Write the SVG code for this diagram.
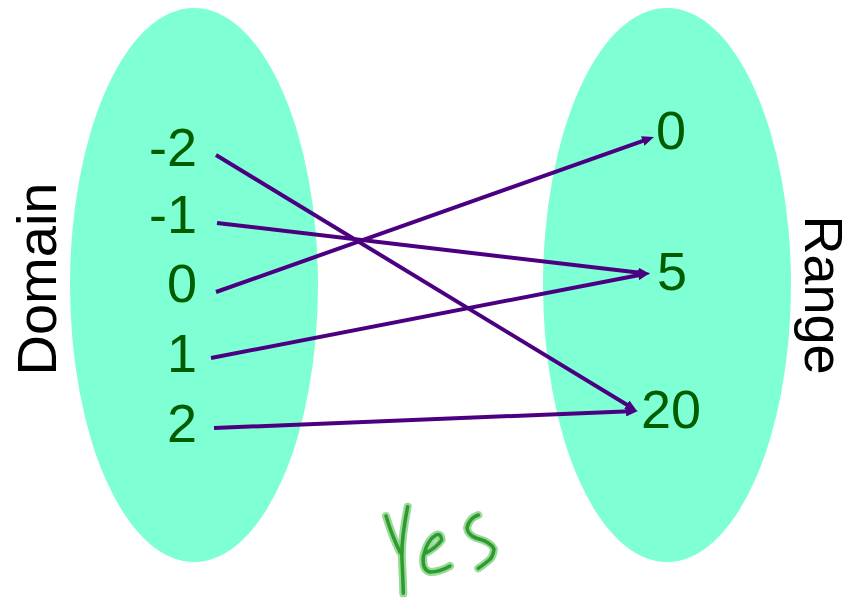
<svg xmlns="http://www.w3.org/2000/svg" width="855" height="599" viewBox="0 0 855 599">
<style>
.set{fill:#7FFFD4}
.num{font-family:"Liberation Sans",Arial,sans-serif;font-size:54px;fill:#005C00}
.lbl{font-family:"Liberation Sans",Arial,sans-serif;font-size:56px;fill:#000}
.arr{stroke:#4B0082;stroke-width:4;fill:none;marker-end:url(#ah)}
.halo{stroke:#7FCF7F;stroke-width:8;fill:none;stroke-linecap:round;stroke-linejoin:round;opacity:0.8}
.ink{stroke:#2E9B2E;stroke-width:3.5;fill:none;stroke-linecap:round;stroke-linejoin:round}
</style>
<defs>
<marker id="ah" markerUnits="userSpaceOnUse" markerWidth="12" markerHeight="10" refX="4" refY="5" orient="auto">
<path d="M0,0 L12,5 L0,10 z" fill="#4B0082"/>
</marker>
</defs>
<rect width="855" height="599" fill="#fff"/>
<g id="domain">
<ellipse class="set" cx="194" cy="285" rx="124" ry="277"/>
<text class="lbl" text-anchor="middle" transform="translate(56,279) rotate(-90)">Domain</text>
</g>
<g id="range">
<ellipse class="set" cx="667" cy="285" rx="124" ry="277"/>
<text class="lbl" text-anchor="middle" style="font-size:54px" transform="translate(805,295) rotate(90)">Range</text>
</g>
<g id="d-2"><text class="num" x="197" y="166" text-anchor="end">-2</text></g>
<g id="d-1"><text class="num" x="197" y="233" text-anchor="end">-1</text></g>
<g id="d0"><text class="num" x="197" y="302" text-anchor="end">0</text></g>
<g id="d1"><text class="num" x="197" y="372" text-anchor="end">1</text></g>
<g id="d2"><text class="num" x="197" y="442" text-anchor="end">2</text></g>
<g id="r0"><text class="num" x="671" y="149" text-anchor="middle">0</text></g>
<g id="r5"><text class="num" x="672" y="290" text-anchor="middle">5</text></g>
<g id="r20"><text class="num" x="671" y="428" text-anchor="middle">20</text></g>
<g id="connectors">
<line class="arr" x1="216" y1="155" x2="630.2" y2="406.8"/>
<line class="arr" x1="217" y1="223" x2="642.1" y2="273.1"/>
<line class="arr" x1="216" y1="292" x2="646.5" y2="139.7"/>
<line class="arr" x1="211" y1="358" x2="642.1" y2="274.5"/>
<line class="arr" x1="214" y1="428" x2="630" y2="411.3"/>
</g>
<g id="yes">
<path class="halo" d="M386,516 Q392,536 400,552"/>
<path class="halo" d="M407.7,506.7 Q401,540 402,560 Q403,580 403.3,593.3"/>
<path class="halo" d="M425,553.3 Q436,548 441.7,540 Q441,533 436,535 Q427,540 423.3,556.7 Q422,570 430,572 Q440,572 450,566"/>
<path class="halo" d="M478.3,515 Q469,518 467,528 Q468,535 476,538 Q491,542 494,549 Q493,558 488,561 Q482,566 478.3,568.3"/>
<path class="ink" d="M386,516 Q392,536 400,552"/>
<path class="ink" d="M407.7,506.7 Q401,540 402,560 Q403,580 403.3,593.3"/>
<path class="ink" d="M425,553.3 Q436,548 441.7,540 Q441,533 436,535 Q427,540 423.3,556.7 Q422,570 430,572 Q440,572 450,566"/>
<path class="ink" d="M478.3,515 Q469,518 467,528 Q468,535 476,538 Q491,542 494,549 Q493,558 488,561 Q482,566 478.3,568.3"/>
</g>
</svg>
